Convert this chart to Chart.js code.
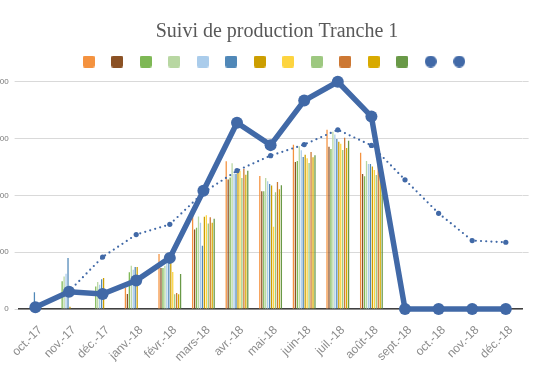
<!DOCTYPE html>
<html lang="fr">
<head>
<meta charset="utf-8">
<title>Suivi de production Tranche 1</title>
<script src="https://cdn.jsdelivr.net/npm/chart.js@4.4.1/dist/chart.umd.min.js"></script>
<style>
  html, body { margin: 0; padding: 0; background: #fff; overflow: hidden; }
  #wrap { position: relative; width: 542px; height: 371px; overflow: hidden; }
  #box { position: absolute; left: -20px; top: 0; width: 600px; height: 371px; }
</style>
</head>
<body>
<div id="wrap"><div id="box"><canvas id="chart" width="600" height="371"></canvas></div></div>
<script>
// mois affichés sur l'axe
const mois = ['oct.-17', 'nov.-17', 'déc.-17', 'janv.-18', 'févr.-18', 'mars-18', 'avr.-18',
              'mai-18', 'juin-18', 'juil.-18', 'août-18', 'sept.-18', 'oct.-18', 'nov.-18', 'déc.-18'];

// 12 séries en barres
const serie1  = [0,   0,   0,  74, 194, 351, 520, 468, 578, 631, 550, 0, 0, 0, 0];
const serie2  = [0,   0,   0,  53, 144, 280, 456, 415, 518, 571, 475, 0, 0, 0, 0];
const serie3  = [0,  98,  79, 129, 144, 286, 463, 415, 521, 563, 467, 0, 0, 0, 0];
const serie4  = [0, 114,  95, 152, 152, 326, 513, 461, 573, 624, 521, 0, 0, 0, 0];
const serie5  = [0, 124,  85, 138, 162, 304, 475, 450, 559, 614, 511, 0, 0, 0, 0];
const serie6  = [59, 180, 105, 148, 185, 223, 475, 440, 535, 599, 511, 0, 0, 0, 0];
const serie7  = [0,   8, 109, 148, 175, 325, 482, 435, 543, 589, 502, 0, 0, 0, 0];
const serie8  = [0,   0,   0,   0, 130, 330, 487, 290, 531, 582, 489, 0, 0, 0, 0];
const serie9  = [0,   0,   0,   0,  52, 301, 461, 411, 514, 560, 472, 0, 0, 0, 0];
const serie10 = [0,   0,   0,   0,  56, 323, 493, 447, 553, 603, 507, 0, 0, 0, 0];
const serie11 = [0,   0,   0,   0,  52, 304, 473, 422, 534, 567, 490, 0, 0, 0, 0];
const serie12 = [0,   0,   0,   0, 123, 318, 487, 436, 541, 592, 500, 0, 0, 0, 0];

// courbes
const production = [6, 61, 53, 100, 180, 416, 656, 577, 734, 800, 678, 0, 0, 0, 0];
const tendance   = [5, 62, 183, 262, 298, 410, 487, 540, 579, 631, 576, 455, 337, 241, 235];

const graduations = [0, 200, 400, 600, 800];

const couleurs = ['#F4923F', '#8B5124', '#7EB855', '#B8D7A2', '#AACCEB', '#5088B8',
                  '#CC9E00', '#FDD43F', '#9DC880', '#CD7833', '#D8AA00', '#699947'];
const bleu = '#4169A7';

// petites pastilles pour la légende
function pastille(color, rond) {
    const c = document.createElement('canvas');
    c.width = 12; c.height = 12;
    const ctx = c.getContext('2d');
    ctx.fillStyle = color;
    ctx.beginPath();
    if (rond) ctx.arc(6, 6, 6, 0, Math.PI * 2);
    else ctx.roundRect(0, 0, 12, 12, 2);
    ctx.fill();
    return c;
}

const series = [serie1, serie2, serie3, serie4, serie5, serie6, serie7, serie8, serie9, serie10, serie11, serie12];
const datasets = series.map((data, i) => ({
    type: 'bar',
    label: '',
    data: data,
    backgroundColor: couleurs[i],
    borderWidth: 0,
    categoryPercentage: 0.7,
    barPercentage: 0.65,
    order: 2,
    xAxisID: 'x',
    yAxisID: 'y'
}));

datasets.push({
    type: 'line',
    label: '',
    data: production,
    borderColor: bleu,
    backgroundColor: bleu,
    borderWidth: 5.5,
    pointRadius: 6,
    pointBorderWidth: 0,
    pointBackgroundColor: bleu,
    tension: 0,
    order: 0,
    clip: false,
    xAxisID: 'x',
    yAxisID: 'y'
});
datasets.push({
    type: 'line',
    label: '',
    data: tendance,
    borderColor: bleu,
    backgroundColor: bleu,
    borderWidth: 2.2,
    borderDash: [0, 5.2],
    borderCapStyle: 'round',
    pointRadius: 2.6,
    pointBorderWidth: 0,
    pointBackgroundColor: bleu,
    tension: 0,
    order: 1,
    clip: false,
    xAxisID: 'x',
    yAxisID: 'y'
});

Chart.defaults.font.family = 'Liberation Sans';

new Chart(document.getElementById('chart'), {
    data: { labels: mois, datasets: datasets },
    options: {
        responsive: false,
        animation: false,
        devicePixelRatio: 1,
        layout: { padding: { left: 0, right: 6, top: 0, bottom: 0 } },
        plugins: {
            tooltip: { enabled: false },
            title: {
                display: true,
                text: 'Suivi de production Tranche 1',
                color: '#595959',
                font: { family: 'Liberation Serif', size: 20, weight: 'normal' },
                padding: { top: 20, bottom: 1 }
            },
            legend: {
                position: 'top',
                labels: {
                    usePointStyle: true,
                    boxWidth: 12,
                    boxHeight: 12,
                    padding: 10.5,
                    font: { size: 12 },
                    generateLabels: chart => chart.data.datasets.map((ds, i) => ({
                        text: '',
                        pointStyle: pastille(ds.type === 'line' ? bleu : ds.backgroundColor, ds.type === 'line'),
                        fillStyle: 'transparent',
                        strokeStyle: 'transparent',
                        lineWidth: 0,
                        hidden: false,
                        datasetIndex: i
                    }))
                }
            }
        },
        scales: {
            x: {
                type: 'category',
                offset: true,
                grid: { display: false },
                border: { display: true, color: '#404040', width: 1.5 },
                ticks: { minRotation: 45, maxRotation: 45, autoSkip: false, color: '#8c8c8c',
                         font: { size: 12 }, padding: 6, labelOffset: 5 },
                afterFit: s => { s.height = 62; }
            },
            y: {
                min: graduations[0],
                max: graduations[graduations.length - 1],
                afterBuildTicks: s => { s.ticks = graduations.map(v => ({ value: v })); },
                grid: { color: '#d9d9d9', drawTicks: true, tickLength: 4 },
                border: { display: false },
                ticks: { color: '#7a7a7a', font: { size: 8 }, padding: 6 },
                afterFit: s => { s.width = 38.6; }
            },
            xHaut: {
                type: 'linear', position: 'top', display: true,
                grid: { display: false }, border: { display: false }, ticks: { display: false },
                afterFit: s => { s.height = 4.3; }
            },
            yDroite: {
                type: 'linear', position: 'right', display: true,
                min: graduations[0],
                max: graduations[graduations.length - 1],
                afterBuildTicks: s => { s.ticks = graduations.slice(1).map(v => ({ value: v })); },
                grid: { color: '#d9d9d9', drawOnChartArea: false, drawTicks: true, tickLength: 6 },
                border: { display: false },
                ticks: { display: false },
                afterFit: s => { s.width = 51.4; }
            }
        }
    }
});
</script>
</body>
</html>
